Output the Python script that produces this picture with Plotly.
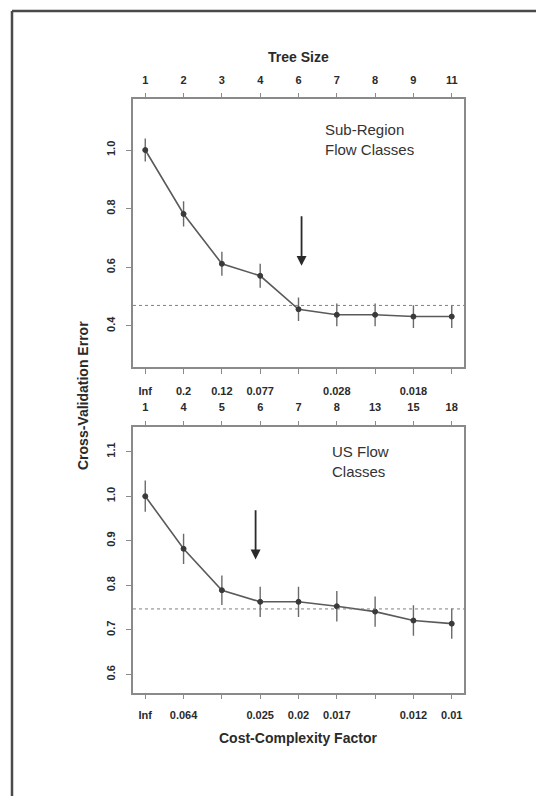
import plotly.graph_objects as go

W, H = 536, 796

# ---- data ----
positions = [1, 2, 3, 4, 5, 6, 7, 8, 9]

top_tree_size = ["1", "2", "3", "4", "6", "7", "8", "9", "11"]
top_cp_labels = ["Inf", "0.2", "0.12", "0.077", "", "0.028", "", "0.018", ""]
top_error = [1.000, 0.782, 0.612, 0.571, 0.457, 0.438, 0.438, 0.432, 0.432]
top_se = [0.039, 0.043, 0.041, 0.041, 0.040, 0.039, 0.039, 0.039, 0.039]
top_threshold = 0.470
top_arrow = {"x": 5.08, "y_tail": 0.779, "y_tip": 0.605}

bot_tree_size = ["1", "4", "5", "6", "7", "8", "13", "15", "18"]
bot_cp_labels = ["Inf", "0.064", "", "0.025", "0.02", "0.017", "", "0.012", "0.01"]
bot_error = [1.000, 0.882, 0.789, 0.763, 0.763, 0.753, 0.741, 0.721, 0.714]
bot_se = [0.035, 0.034, 0.033, 0.034, 0.034, 0.034, 0.034, 0.034, 0.034]
bot_threshold = 0.747
bot_arrow = {"x": 3.88, "y_tail": 0.972, "y_tip": 0.858}

top_yticks = [0.4, 0.6, 0.8, 1.0]
bot_yticks = [0.6, 0.7, 0.8, 0.9, 1.0, 1.1]


def px_x(p):
    return p / W


def px_y(p):
    return 1 - p / H


FONT = "Liberation Sans, Arial, sans-serif"
LINE_C = "#5a5a5a"
BOX_C = "#8a8a8a"
TXT_C = "#2a2a2a"

fig = go.Figure()

for err, se, xa, ya in [(top_error, top_se, "x", "y"), (bot_error, bot_se, "x2", "y2")]:
    fig.add_trace(go.Scatter(
        x=positions, y=err, xaxis=xa, yaxis=ya, mode="lines+markers",
        line=dict(color=LINE_C, width=1.6),
        marker=dict(size=5, color="#3a3a3a", line=dict(color="#3a3a3a", width=1)),
        error_y=dict(type="data", array=se, visible=True, width=0,
                     thickness=1.4, color="#6a6a6a"),
        showlegend=False, hoverinfo="skip",
    ))

xdom = [px_x(133), px_x(464)]
xrange_ = [0.68, 9.32]
tick_font = dict(family=FONT, size=11, color=TXT_C, weight="bold")

common_x = dict(range=xrange_, tickmode="array", tickvals=positions,
                ticks="outside", ticklen=5, tickcolor=BOX_C, tickwidth=1.2,
                showgrid=False, zeroline=False, tickfont=tick_font)

fig.update_layout(
    width=W, height=H,
    margin=dict(l=0, r=0, t=0, b=0),
    paper_bgcolor="white", plot_bgcolor="white",
    xaxis=dict(domain=xdom, anchor="y", ticktext=top_cp_labels, ticklabelstandoff=8,
               showline=True, linecolor=BOX_C, linewidth=1.5, mirror=True, **common_x),
    yaxis=dict(domain=[px_y(367.3), px_y(99.3)], anchor="x", range=[0.259, 1.173],
               tickmode="array", tickvals=top_yticks,
               ticktext=[f"{v:.1f}" for v in top_yticks], tickangle=-90,
               ticks="outside", ticklen=5, tickcolor=BOX_C, tickwidth=1.2,
               showline=True, linecolor=BOX_C, linewidth=1.5, mirror=True,
               showgrid=False, zeroline=False, tickfont=tick_font,
               ticklabelstandoff=7),
    xaxis3=dict(overlaying="x", side="top", anchor="y", ticktext=top_tree_size,
                ticklabelstandoff=5, showline=False, **common_x),
    xaxis2=dict(domain=xdom, anchor="y2", ticktext=bot_cp_labels, ticklabelstandoff=6,
                showline=True, linecolor=BOX_C, linewidth=1.5, mirror=True, **common_x),
    yaxis2=dict(domain=[px_y(692.7), px_y(426.7)], anchor="x2", range=[0.559, 1.156],
                tickmode="array", tickvals=bot_yticks,
                ticktext=[f"{v:.1f}" for v in bot_yticks], tickangle=-90,
                ticks="outside", ticklen=5, tickcolor=BOX_C, tickwidth=1.2,
                showline=True, linecolor=BOX_C, linewidth=1.5, mirror=True,
                showgrid=False, zeroline=False, tickfont=tick_font,
                ticklabelstandoff=7),
    xaxis4=dict(overlaying="x2", side="top", anchor="y2", ticktext=bot_tree_size,
                ticklabelstandoff=5, showline=False, **common_x),
)

# invisible traces to activate top axes
fig.add_trace(go.Scatter(x=positions, y=top_error, xaxis="x3", yaxis="y",
                         mode="markers", marker=dict(opacity=0), showlegend=False,
                         hoverinfo="skip"))
fig.add_trace(go.Scatter(x=positions, y=bot_error, xaxis="x4", yaxis="y2",
                         mode="markers", marker=dict(opacity=0), showlegend=False,
                         hoverinfo="skip"))

shapes = []
# outer frame (left and top edges)
shapes.append(dict(type="line", xref="paper", yref="paper", x0=px_x(12), x1=1,
                   y0=px_y(11), y1=px_y(11), line=dict(color="#4a4a4a", width=2.5)))
shapes.append(dict(type="line", xref="paper", yref="paper", x0=px_x(12), x1=px_x(12),
                   y0=0, y1=px_y(11), line=dict(color="#4a4a4a", width=2.5)))
# thresholds
for thr, xr, yr in [(top_threshold, "x domain", "y"), (bot_threshold, "x2 domain", "y2")]:
    shapes.append(dict(type="line", xref=xr, yref=yr, x0=0, x1=1, y0=thr, y1=thr,
                       line=dict(color="#808080", width=1, dash="dot")))
fig.update_layout(shapes=shapes)

ann = []
for arr, xr, yr in [(top_arrow, "x", "y"), (bot_arrow, "x2", "y2")]:
    ann.append(dict(x=arr["x"], y=arr["y_tip"], ax=arr["x"], ay=arr["y_tail"],
                    xref=xr, yref=yr, axref=xr, ayref=yr, text="", showarrow=True,
                    arrowhead=2, arrowsize=1.1, arrowwidth=1.8, arrowcolor="#2a2a2a"))

ann.append(dict(x=px_x(322.7), y=px_y(139.7), xref="paper", yref="paper",
                text="Sub-Region<br>Flow Classes", showarrow=False, xanchor="left",
                yanchor="middle", align="left",
                font=dict(family=FONT, size=15, color="#333333")))
ann.append(dict(x=px_x(330), y=px_y(461.3), xref="paper", yref="paper",
                text="US Flow<br>Classes", showarrow=False, xanchor="left",
                yanchor="middle", align="left",
                font=dict(family=FONT, size=15, color="#333333")))

title_font = dict(family=FONT, size=14, color=TXT_C, weight="bold")
ann.append(dict(x=px_x(298.5), y=px_y(57.3), xref="paper", yref="paper",
                text="Tree Size", showarrow=False, xanchor="center", yanchor="middle",
                font=title_font))
ann.append(dict(x=px_x(298), y=px_y(738.3), xref="paper", yref="paper",
                text="Cost-Complexity Factor", showarrow=False, xanchor="center",
                yanchor="middle", font=title_font))
ann.append(dict(x=px_x(83), y=px_y(396), xref="paper", yref="paper",
                text="Cross-Validation Error", showarrow=False, textangle=-90,
                xanchor="center", yanchor="middle", font=title_font))
fig.update_layout(annotations=ann)

fig.write_html("out.html", config={"displayModeBar": False},
               post_script="document.body.style.margin='0';")
